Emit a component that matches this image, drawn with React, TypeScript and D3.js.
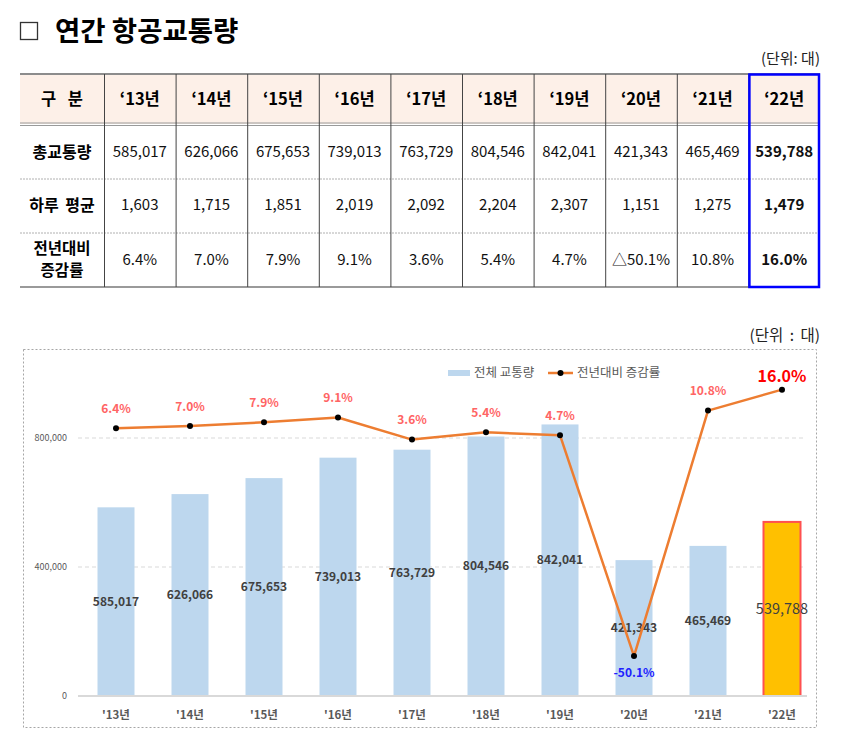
import React from "react";
import * as d3 from "d3";

const years = ["13", "14", "15", "16", "17", "18", "19", "20", "21", "22"];
const totalTraffic = [585017, 626066, 675653, 739013, 763729, 804546, 842041, 421343, 465469, 539788];
const dailyAvg = [1603, 1715, 1851, 2019, 2092, 2204, 2307, 1151, 1275, 1479];
const growth = [6.4, 7.0, 7.9, 9.1, 3.6, 5.4, 4.7, -50.1, 10.8, 16.0];
const yTicks = [0, 400000, 800000];

const W = 850;
const H = 749;
const FONT = "'Noto Sans CJK KR', 'Noto Sans', sans-serif";
const fmt = d3.format(",");

export default function App() {
  // table geometry
  const tL = 20, tR = 820, tTop = 74, hBot = 124, r1 = 179, r2 = 233, tBot = 287;
  const firstColR = 104;
  const colX = d3.scaleBand<string>().domain(years).range([firstColR, tR]);
  const labelCx = (tL + firstColR) / 2;
  const lastIdx = years.length - 1;

  // chart geometry
  const x = d3.scaleBand<string>().domain(years).range([79, 819]).paddingInner(0.5).paddingOuter(0.25);
  const y = d3.scaleLinear().domain([0, 1000000]).range([696, 373.5]);
  const y2 = d3.scaleLinear().domain([-60, 20]).range([696, 373.5]);
  const cx = (yr: string) => (x(yr) as number) + x.bandwidth() / 2;
  const line = d3
    .line<number>()
    .x((_, i) => cx(years[i]))
    .y((d) => y2(d));

  const pctLabel = (v: number) => (v < 0 ? "-" : "") + Math.abs(v).toFixed(1) + "%";

  return (
    <svg
      width={W}
      height={H}
      style={{ position: "absolute", left: 0, top: 0, background: "#fff" }}
      fontFamily={FONT}
    >
      {/* Title */}
      <rect x={20.5} y={22.5} width={17} height={17} fill="none" stroke="#333" strokeWidth={1.3} />
      <text x={55} y={40.5} fontSize={27.5} fontWeight="bold" fill="#000">
        연간 항공교통량
      </text>
      <text x={820} y={64} fontSize={15} textAnchor="end" fill="#222">
        (단위: 대)
      </text>

      {/* Table */}
      <rect x={tL} y={tTop} width={tR - tL} height={hBot - tTop} fill="#FDF0E8" />
      <line x1={tL} x2={tR} y1={tTop} y2={tTop} stroke="#8c8c8c" strokeWidth={2} />
      <line x1={tL} x2={tR} y1={hBot - 1} y2={hBot - 1} stroke="#9a9a9a" strokeWidth={1} />
      <line x1={tL} x2={tR} y1={hBot + 1.5} y2={hBot + 1.5} stroke="#9a9a9a" strokeWidth={1} />
      <line x1={tL} x2={tR} y1={r1} y2={r1} stroke="#b0b0b0" strokeWidth={1} strokeDasharray="2,1" />
      <line x1={tL} x2={tR} y1={r2} y2={r2} stroke="#b0b0b0" strokeWidth={1} strokeDasharray="2,1" />
      <line x1={tL} x2={tR} y1={tBot} y2={tBot} stroke="#9a9a9a" strokeWidth={2} />
      {years.map((yr) => (
        <line
          key={"v" + yr}
          x1={(colX(yr) as number) + 0.5}
          x2={(colX(yr) as number) + 0.5}
          y1={tTop}
          y2={tBot}
          stroke="#444"
          strokeWidth={1}
        />
      ))}
      <text x={labelCx} y={99} dy="0.35em" fontSize={16.5} fontWeight="bold" textAnchor="middle" wordSpacing={8}>
        구 분
      </text>
      <text x={labelCx} y={152} dy="0.35em" fontSize={16} fontWeight="bold" textAnchor="middle">
        총교통량
      </text>
      <text x={labelCx} y={205} dy="0.35em" fontSize={16} fontWeight="bold" textAnchor="middle" wordSpacing={3}>
        하루 평균
      </text>
      <text x={labelCx} y={248.5} dy="0.35em" fontSize={15.5} fontWeight="bold" textAnchor="middle">
        전년대비
      </text>
      <text x={labelCx} y={271} dy="0.35em" fontSize={15.5} fontWeight="bold" textAnchor="middle">
        증감률
      </text>
      {years.map((yr, i) => {
        const c = (colX(yr) as number) + colX.bandwidth() / 2;
        const bold = i === lastIdx ? "bold" : "normal";
        const g = growth[i];
        return (
          <g key={"r" + yr}>
            <text x={c} y={99} dy="0.35em" fontSize={16.5} fontWeight="bold" textAnchor="middle">
              {"\u2018" + yr + "년"}
            </text>
            <text x={c} y={152} dy="0.35em" fontSize={15} fontWeight={bold} textAnchor="middle" fill="#111">
              {fmt(totalTraffic[i])}
            </text>
            <text x={c} y={205} dy="0.35em" fontSize={15} fontWeight={bold} textAnchor="middle" fill="#111">
              {fmt(dailyAvg[i])}
            </text>
            <text x={c} y={260} dy="0.35em" fontSize={15} fontWeight={bold} textAnchor="middle" fill="#111">
              {(g < 0 ? "\u25B3" : "") + Math.abs(g).toFixed(1) + "%"}
            </text>
          </g>
        );
      })}
      <rect
        x={(colX(years[lastIdx]) as number) + 1}
        y={tTop + 0.5}
        width={colX.bandwidth() - 2}
        height={tBot - tTop - 0.5}
        fill="none"
        stroke="#0000FF"
        strokeWidth={2.5}
      />

      {/* Chart */}
      <text x={820} y={336} dy="0.35em" fontSize={15.5} textAnchor="end" fill="#222" wordSpacing={3}>
        (단위 : 대)
      </text>
      <rect x={23.5} y={349.5} width={793} height={378} fill="#fff" stroke="#a6a6a6" strokeWidth={1} strokeDasharray="2,2" />

      {yTicks.map((t) => (
        <g key={"t" + t}>
          {t > 0 && (
            <line x1={78} x2={806} y1={y(t)} y2={y(t)} stroke="#d9d9d9" strokeWidth={1} strokeDasharray="4,3" />
          )}
          <text x={67} y={y(t)} dy="0.35em" fontSize={9} textAnchor="end" fill="#595959">
            {fmt(t)}
          </text>
        </g>
      ))}

      {years.map((yr, i) => {
        const last = i === lastIdx;
        return (
          <rect
            key={"b" + yr}
            x={x(yr) as number}
            y={y(totalTraffic[i])}
            width={x.bandwidth()}
            height={y(0) - y(totalTraffic[i])}
            fill={last ? "#FFC000" : "#BDD7EE"}
            stroke={last ? "#FF5050" : "none"}
            strokeWidth={last ? 2 : 0}
          />
        );
      })}
      <line x1={78} x2={807} y1={y(0)} y2={y(0)} stroke="#d9d9d9" strokeWidth={2} />

      {years.map((yr, i) => {
        const last = i === lastIdx;
        return (
          <text
            key={"bl" + yr}
            x={cx(yr)}
            y={(y(totalTraffic[i]) + y(0)) / 2}
            dy="0.35em"
            fontSize={last ? 14.5 : 12}
            fontWeight={last ? "normal" : "bold"}
            textAnchor="middle"
            fill="#404040"
          >
            {fmt(totalTraffic[i])}
          </text>
        );
      })}

      {years.map((yr) => (
        <text key={"xl" + yr} x={cx(yr)} y={715} dy="0.35em" fontSize={11.5} fontWeight="bold" textAnchor="middle" fill="#595959">
          {"'" + yr + "년"}
        </text>
      ))}

      <path d={line(growth) || ""} fill="none" stroke="#ED7D31" strokeWidth={2.5} strokeLinejoin="round" />
      {years.map((yr, i) => (
        <circle key={"m" + yr} cx={cx(yr)} cy={y2(growth[i])} r={3} fill="#000" />
      ))}
      {years.map((yr, i) => {
        const g = growth[i];
        const last = i === lastIdx;
        const neg = g < 0;
        return (
          <text
            key={"pl" + yr}
            x={cx(yr)}
            y={neg ? y2(g) + 17 : y2(g) - (last ? 13 : 19.5)}
            dy="0.35em"
            fontSize={last ? 16 : 12}
            fontWeight="bold"
            textAnchor="middle"
            fill={neg ? "#2020FF" : last ? "#FF0000" : "#FF6464"}
          >
            {pctLabel(g)}
          </text>
        );
      })}

      {/* Legend */}
      <rect x={448} y={370} width={22} height={6} fill="#BDD7EE" />
      <text x={474} y={373} dy="0.35em" fontSize={12.5} fill="#595959">
        전체 교통량
      </text>
      <line x1={548} x2={573} y1={373} y2={373} stroke="#ED7D31" strokeWidth={2.5} />
      <circle cx={560.5} cy={373} r={3} fill="#000" />
      <text x={577} y={373} dy="0.35em" fontSize={12.5} fill="#595959">
        전년대비 증감률
      </text>
    </svg>
  );
}
